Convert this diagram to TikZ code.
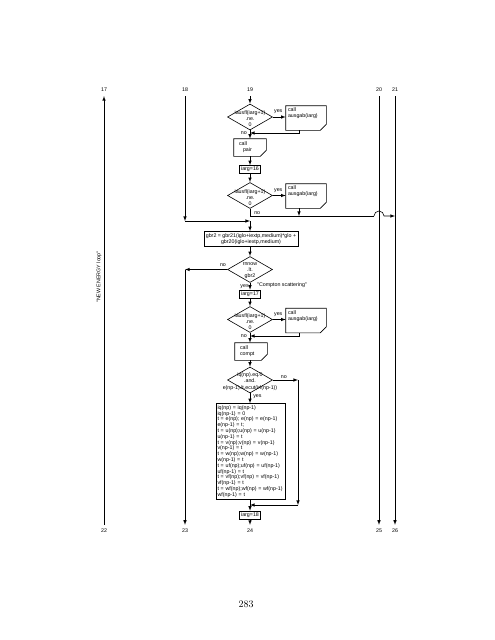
\documentclass[tikz,border=0pt]{standalone}
\usepackage{fontspec}
\newfontfamily\chartfont{Liberation Sans}
\usepackage{tikz}
\usetikzlibrary{arrows, shapes.geometric}

% outline of a subroutine call box (cut corner bottom right)
\newcommand{\callshape}[1]{\draw (#1.north west) -- (#1.north east) -- ([yshift=6pt]#1.south east) -- ([xshift=-6pt]#1.south east) -- (#1.south west) -- cycle;}

\begin{document}
\begin{tikzpicture}[x=1pt, y=-1pt, line width=0.6pt, >=latex,
    every node/.style={font=\chartfont\fontsize{5.3}{6}\selectfont, inner sep=1pt},
    conn/.style={inner sep=4pt},
    dec/.style={diamond, draw, minimum width=45pt, minimum height=26pt, inner sep=0pt},
    dtext/.style={align=center, inner sep=0pt},
    setbox/.style={draw, inner sep=1.5pt},
    plainbox/.style={draw, inner sep=2pt},
    callbox/.style 2 args={minimum width=#1, minimum height=#2, inner sep=0pt},
    calltext/.style={anchor=north west, align=left, inner sep=2pt}]
        \useasboundingbox (0,0) rectangle (495,640);
        % connectors top and bottom
        \node[conn] (c17) at (104,90) {17};
        \node[conn] (c18) at (185,90) {18};
        \node[conn] (c19) at (250,90) {19};
        \node[conn] (c20) at (379,90) {20};
        \node[conn] (c21) at (395,90) {21};
        \node[conn] (c22) at (104,531) {22};
        \node[conn] (c23) at (185,531) {23};
        \node[conn] (c24) at (250,531) {24};
        \node[conn] (c25) at (379,531) {25};
        \node[conn] (c26) at (395,531) {26};
        \node[rotate=90] (loop) at (99,277) {"NEW ENERGY loop"};
        % pair production
        \node[dec] (d1) at (250,117) {};
        \node[dtext] (d1t) at (250,119) {iausfl(iarg+1)\\.ne.\\0};
        \node[callbox={40pt}{24pt}] (aus1) at (306,118) {};
        \node[calltext] (aus1t) at (aus1.north west) {call\\ausgab(iarg)};
        \callshape{aus1}
        \node[callbox={32pt}{17pt}] (pair) at (250,147.5) {};
        \node[calltext, inner xsep=5pt, inner ysep=3pt] (pairt) at (pair.north west) {call\\\hspace{4pt}pair};
        \callshape{pair}
        \node[setbox] (i16) at (250,169.5) {iarg=16};
        \node[dec] (d2) at (250,195.5) {};
        \node[dtext] (d2t) at (250,197.5) {iausfl(iarg+1)\\.ne.\\0};
        \node[callbox={40pt}{24pt}] (aus2) at (306,196) {};
        \node[calltext] (aus2t) at (aus2.north west) {call\\ausgab(iarg)};
        \callshape{aus2}
        \coordinate (m1) at (250,133);
        \coordinate (jmp) at (374,216);
        \coordinate (k21) at (395,216);
        \coordinate (j18) at (185,221);
        \coordinate (j1) at (250,221);
        % compton
        \node[plainbox, align=center] (gbr) at (251,239) {gbr2 = gbr21(iglo+iextp,medium)*glo +\\gbr20(iglo+iextp,medium)};
        \node[dec] (d3) at (250,269.5) {};
        \node[dtext] (d3t) at (250,271) {rnnow\\.lt.\\gbr2};
        \coordinate (j23) at (185,269.5);
        \node[setbox] (i17) at (250,294) {iarg=17};
        \node (cmt) at (282,285) {"Compton scattering"};
        \node[dec] (d4) at (250,319.5) {};
        \node[dtext] (d4t) at (250,321.5) {iausfl(iarg+1)\\.ne.\\0};
        \node[callbox={40pt}{24pt}] (aus3) at (306,320.5) {};
        \node[calltext] (aus3t) at (aus3.north west) {call\\ausgab(iarg)};
        \callshape{aus3}
        \coordinate (m3) at (250,336);
        \node[callbox={32pt}{17pt}] (compt) at (251,351.5) {};
        \node[calltext, inner xsep=5pt, inner ysep=3pt] (comptt) at (compt.north west) {call\\compt};
        \callshape{compt}
        \node[dec] (d5) at (250,380) {};
        \node[dtext, font=\chartfont\fontsize{5.3}{6.5}\selectfont] (d5t) at (250,381.5) {iq(np).eq.0\\.and.\\e(np-1).lt.ecut(irl(np-1))};
        \coordinate (r5a) at (298,380);
        \coordinate (r5b) at (298,505);
        \coordinate (m5) at (250,505);
        \node[plainbox, align=left, text width=66pt, inner xsep=1.5pt, font=\chartfont\fontsize{5.3}{5.8}\selectfont] (swap) at (250.5,451.5) {iq(np) = iq(np-1)\\iq(np-1) = 0\\t = e(np); e(np) = e(np-1)\\e(np-1) = t;\\t = u(np);u(np) = u(np-1)\\u(np-1) = t\\t = v(np);v(np) = v(np-1)\\v(np-1) = t\\t = w(np);w(np) = w(np-1)\\w(np-1) = t\\t = uf(np);uf(np) = uf(np-1)\\uf(np-1) = t\\t = vf(np);vf(np) = vf(np-1)\\vf(np-1) = t\\t = wf(np);wf(np) = wf(np-1)\\wf(np-1) = t};
        \node[setbox] (i18) at (250,515) {iarg=18};
        \node[font=\rmfamily\fontsize{10}{12}\selectfont] (page) at (246,604) {283};
        % yes / no
        \node[anchor=south west] (y1) at ([yshift=2pt]d1.east) {yes};
        \node[anchor=east] (n1) at ([xshift=-2pt]m1) {no};
        \node[anchor=south west] (y2) at ([yshift=2pt]d2.east) {yes};
        \node[anchor=west] (n2) at ([xshift=3pt,yshift=-4pt]d2.south) {no};
        \node[anchor=south east] (n3) at ([yshift=2pt]d3.west) {no};
        \node[anchor=north east] (y3) at ([yshift=-1pt]d3.south) {yes};
        \node[anchor=south west] (y4) at ([yshift=2pt]d4.east) {yes};
        \node[anchor=east] (n4) at ([xshift=-2pt]m3) {no};
        \node[anchor=south] (n5) at ([xshift=11pt]d5.east) {no};
        \node[anchor=west] (y5) at ([xshift=2pt,yshift=-3pt]d5.south) {yes};
        % long lines
        \draw[->] (c22.north) -- (c17.south);    %17
        \draw[->] (c18.south) -- (j18);          %18
        \draw[->] (j18) -- (j1);
        \draw[->] (c20.south) -- (c25.north);    %20
        \draw[->] (c21.south) -- (c26.north);    %21
        % flow
        \draw[->] (c19.south) -- (d1.north);
        \draw[->] (d1.east) -- (d1.east -| aus1.west);
        \draw[->] ([xshift=-7pt]aus1.south) |- (m1);
        \draw[->] (d1.south) -- (pair.north);
        \draw[->] (pair.south) -- (i16.north);
        \draw[->] (i16.south) -- (d2.north);
        \draw[->] (d2.east) -- (d2.east -| aus2.west);
        \draw (d2.south) |- (jmp);
        \draw[->] (jmp) arc[start angle=180, end angle=0, radius=5pt] -- (k21);
        \draw[->] ([xshift=-7pt]aus2.south) -- ([xshift=-7pt]aus2.south |- jmp);
        \draw[->] (j1) -- (j1 |- gbr.north);
        \draw[->] (d3.north |- gbr.south) -- (d3.north);
        \draw[->] (d3.west) -- (j23);
        \draw[->] (j23) -- (c23.north);
        \draw[->] (d3.south) -- (i17.north);
        \draw[->] (i17.south) -- (d4.north);
        \draw[->] (d4.east) -- (d4.east -| aus3.west);
        \draw[->] ([xshift=-7pt]aus3.south) |- (m3);
        \draw[->] (d4.south) -- (d4.south |- compt.north);
        \draw[->] (d4.south |- compt.south) -- (d5.north);
        \draw[->] (d5.east) -- (r5a);
        \draw[->] (r5a) -- (r5b);
        \draw[->] (r5b) -- (m5);
        \draw[->] (d5.south) -- (d5.south |- swap.north);
        \draw[->] (d5.south |- swap.south) -- (i18.north);
        \draw[->] (i18.south) -- (c24.north);
\end{tikzpicture}
\end{document}
